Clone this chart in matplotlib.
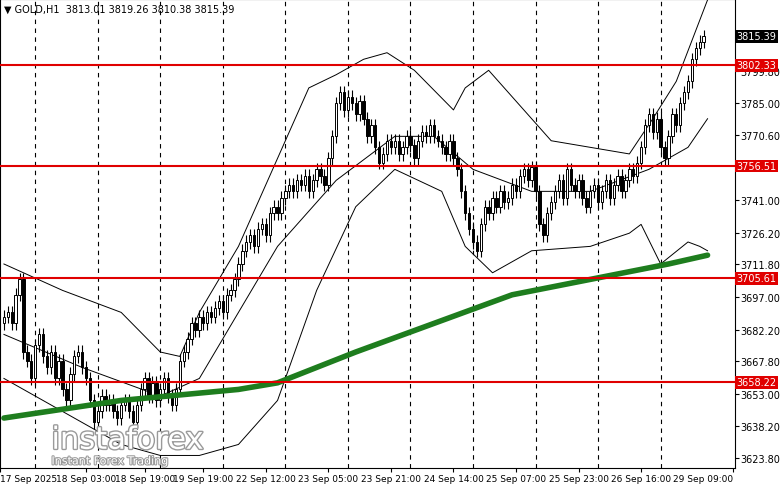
import numpy as np
import matplotlib.pyplot as plt
import matplotlib.patheffects as pe

closes = [3688,3690,3685,3698,3705,3672,3668,3660,3675,3680,
          3670,3665,3672,3660,3668,3655,3650,3662,3670,3672,
          3665,3660,3650,3640,3645,3652,3648,3650,3645,3642,
          3648,3650,3645,3640,3648,3655,3660,3652,3658,3650,
          3655,3660,3652,3648,3655,3668,3672,3678,3685,3682,
          3688,3685,3690,3688,3692,3695,3690,3698,3700,3705,
          3712,3718,3722,3725,3720,3728,3730,3725,3735,3738,
          3735,3742,3745,3748,3745,3750,3748,3752,3745,3750,
          3755,3752,3748,3760,3770,3785,3790,3782,3788,3785,
          3780,3786,3778,3770,3775,3765,3758,3762,3768,3765,
          3768,3762,3765,3770,3766,3760,3768,3772,3770,3775,
          3770,3768,3765,3762,3768,3760,3755,3745,3735,3728,
          3722,3718,3730,3738,3735,3742,3738,3745,3740,3742,
          3748,3745,3752,3755,3750,3756,3745,3730,3725,3735,
          3740,3745,3750,3742,3755,3748,3745,3750,3742,3738,
          3745,3748,3740,3745,3750,3742,3748,3752,3745,3750,
          3755,3752,3758,3765,3775,3780,3772,3778,3765,3760,
          3770,3780,3775,3785,3790,3795,3805,3810,3813.01,3815.39]
first_open = 3685
wick = 3.0

upper_i = [0,5,15,30,40,45,50,60,70,78,85,92,98,105,115,118,124,130,140,150,160,166,172,180]
upper_v = [3712,3708,3700,3690,3672,3670,3690,3720,3760,3792,3798,3805,3808,3800,3782,3792,3800,3788,3768,3765,3762,3778,3795,3832]
mid_i = [0,20,40,50,60,70,85,100,110,120,135,150,165,175,180]
mid_v = [3680,3665,3652,3660,3690,3720,3750,3770,3770,3755,3745,3745,3755,3765,3778]
lower_i = [0,10,20,30,40,50,60,70,80,90,100,112,118,125,135,150,160,163,168,175,178,180]
lower_v = [3660,3650,3640,3630,3625,3625,3630,3650,3700,3738,3755,3745,3720,3708,3718,3720,3726,3730,3712,3722,3720,3718]
ma_i = [0,30,60,70,90,110,130,150,170,180]
ma_v = [3642,3650,3655,3658,3672,3685,3698,3705,3712,3716]

levels = [3802.33, 3756.51, 3705.61, 3658.22]
yticks = [3623.80,3638.20,3653.00,3667.80,3682.20,3697.00,3711.80,3726.20,3741.00,3770.60,3785.00,3799.80]
grid_x = [8 + 16 * k for k in range(11)]
xtick_pos = [-1, 21, 36, 51, 67, 83, 99, 115, 131, 147, 163, 186.5]
xtick_lab = ["17 Sep 2025","18 Sep 03:00","18 Sep 19:00","19 Sep 19:00","22 Sep 12:00","23 Sep 05:00",
             "23 Sep 21:00","24 Sep 14:00","25 Sep 07:00","25 Sep 23:00","26 Sep 16:00","29 Sep 09:00"]

fig = plt.figure(figsize=(7.81, 4.89), dpi=100)
ax = fig.add_axes([0.0, 0.04, 0.941, 0.96])

opens = [first_open] + closes[:-1]
for i, (o, c) in enumerate(zip(opens, closes)):
    ax.vlines(i, min(o, c) - wick, max(o, c) + wick, color="black", lw=0.8, zorder=3)
    face = "white" if c >= o else "black"
    ax.bar(i, max(abs(c - o), 0.4), bottom=min(o, c), width=0.6, color=face,
           edgecolor="black", lw=0.7, zorder=4)

for xi, yv in [(upper_i, upper_v), (mid_i, mid_v), (lower_i, lower_v)]:
    ax.plot(xi, yv, color="black", lw=0.7, zorder=2)
ax.plot(ma_i, ma_v, color="#1e7d1e", lw=4, zorder=5, solid_capstyle="round")

for lv in levels:
    ax.axhline(lv, color="#e00000", lw=1.5, zorder=6)
for xp in grid_x:
    ax.axvline(xp, color="black", lw=0.8, ls=(0, (4, 4)), zorder=1)

ax.set_xlim(-1, 187)
ax.set_ylim(3619.1, 3832.4)
ax.yaxis.tick_right()
ax.set_yticks(yticks)
ax.set_yticklabels([f"{v:.2f}" for v in yticks], fontsize=7)
ax.set_xticks(xtick_pos)
ax.set_xticklabels(xtick_lab, fontsize=6.5)
ax.get_xticklabels()[0].set_horizontalalignment("left")
ax.get_xticklabels()[-1].set_horizontalalignment("right")
ax.tick_params(length=3, pad=1)

for lv in levels:
    ax.text(1.002, lv, f"{lv:.2f}", transform=ax.get_yaxis_transform(), fontsize=7,
            color="white", va="center", ha="left",
            bbox=dict(boxstyle="square,pad=0.15", fc="#e00000", ec="none"))
ax.text(1.002, closes[-1], f"{closes[-1]:.2f}", transform=ax.get_yaxis_transform(), fontsize=7,
        color="white", va="center", ha="left",
        bbox=dict(boxstyle="square,pad=0.15", fc="black", ec="none"))

ax.text(0.005, 0.99, "\u25bc GOLD,H1  3813.01 3819.26 3810.38 3815.39", transform=ax.transAxes,
        fontsize=7, va="top", ha="left")
ax.text(0.07, 0.06, "instaforex", transform=ax.transAxes, fontsize=22, color="white",
        va="center", ha="left", zorder=10,
        path_effects=[pe.withStroke(linewidth=2, foreground="#9a9a9a")])
ax.text(0.07, 0.015, "Instant Forex Trading", transform=ax.transAxes, fontsize=8, color="white",
        va="center", ha="left", zorder=10,
        path_effects=[pe.withStroke(linewidth=1.5, foreground="#9a9a9a")])

fig.savefig("out.png", dpi=100)
